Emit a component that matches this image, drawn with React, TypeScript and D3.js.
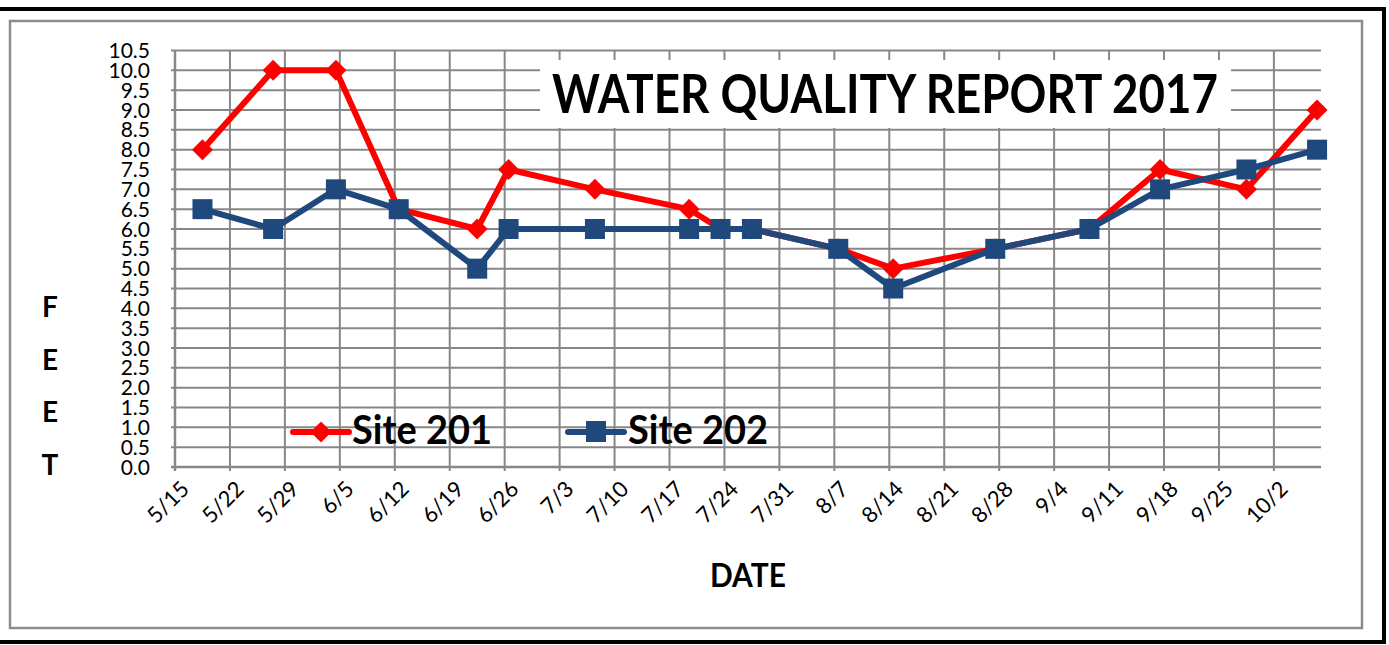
import * as d3 from "d3";

const sampleDates = [
  "2017-05-18", "2017-05-27", "2017-06-04", "2017-06-12", "2017-06-22",
  "2017-06-26", "2017-07-07", "2017-07-19", "2017-07-23", "2017-07-27",
  "2017-08-07", "2017-08-14", "2017-08-27", "2017-09-08", "2017-09-17",
  "2017-09-28", "2017-10-07",
];
const site201 = [8, 10, 10, 6.5, 6, 7.5, 7, 6.5, 6, 6, 5.5, 5, 5.5, 6, 7.5, 7, 9];
const site202 = [6.5, 6, 7, 6.5, 5, 6, 6, 6, 6, 6, 5.5, 4.5, 5.5, 6, 7, 7.5, 8];
const axisStart = "2017-05-15";
const axisEnd = "2017-10-08";
const yMax = 10.5;
const title = "WATER QUALITY REPORT 2017";
const yTitle = ["F", "E", "E", "T"];

const W = 1389;
const H = 645;
const left = 175;
const right = 1321;
const top = 50.5;
const bottom = 467;

const RED = "#ff0000";
const BLUE = "#1f497d";
const GRID = "#878787";
const FONT = "Lato, 'Open Sans', sans-serif";

const parse = d3.timeParse("%Y-%m-%d");
const fmt = d3.timeFormat("%-m/%-d");

export default function App() {
  const start = parse(axisStart)!;
  const end = parse(axisEnd)!;
  const x = d3.scaleTime([start, end], [left, right]);
  const y = d3.scaleLinear([0, yMax], [bottom, top]);

  // Excel date axis puts each point in the middle of its day
  const px = (s: string) => x(d3.timeHour.offset(parse(s)!, 12));
  const weeks = d3.timeMonday.range(start, d3.timeDay.offset(end, -1));
  const yTicks = y.ticks(21);

  const line = d3
    .line<number>()
    .x((_, i) => px(sampleDates[i]))
    .y((d) => y(d));

  const diamond = (cx: number, cy: number, r: number) =>
    `M${cx},${cy - r}L${cx + r},${cy}L${cx},${cy + r}L${cx - r},${cy}Z`;

  return (
    <svg
      width={W}
      height={H}
      style={{ position: "absolute", left: 0, top: 0, background: "#fff" }}
    >
      {/* frames */}
      <rect x={-6} y={9} width={1390} height={633} fill="none" stroke="#000" strokeWidth={4} />
      <rect x={10} y={21} width={1352} height={607} fill="none" stroke="#8c8c8c" strokeWidth={2.5} />

      {/* grid */}
      {yTicks.slice(1).map((t) => (
        <line key={"h" + t} x1={left - 4} x2={right} y1={y(t)} y2={y(t)} stroke={GRID} strokeWidth={2} />
      ))}
      {weeks.slice(1).map((d) => (
        <line key={"v" + d.getTime()} x1={x(d)} x2={x(d)} y1={top} y2={bottom + 4} stroke={GRID} strokeWidth={2} />
      ))}
      <line x1={left} x2={left} y1={top} y2={bottom + 4} stroke={GRID} strokeWidth={2.5} />
      <line x1={left - 4} x2={right} y1={bottom} y2={bottom} stroke={GRID} strokeWidth={2.5} />

      {/* y labels */}
      {yTicks.map((t) => (
        <text
          key={"yl" + t}
          x={150}
          y={y(t)}
          dy="0.36em"
          textAnchor="end"
          fontFamily={FONT}
          fontSize={21}
          fill="#000"
        >
          {t.toFixed(1)}
        </text>
      ))}

      {/* x labels */}
      {weeks.map((d) => (
        <text
          key={"xl" + d.getTime()}
          transform={`translate(${x(d) + 10},${bottom + 18}) rotate(-45)`}
          textAnchor="end"
          dy="0.35em"
          fontFamily={FONT}
          fontSize={22}
          fill="#000"
        >
          {fmt(d)}
        </text>
      ))}

      {/* axis titles */}
      <text x={748} y={587} textAnchor="middle" fontFamily={FONT} fontWeight="bold" fontSize={33} textLength={76} lengthAdjust="spacingAndGlyphs">
        DATE
      </text>
      {yTitle.map((c, i) => (
        <text key={"yt" + i} x={50} y={317 + i * 52.5} textAnchor="middle" fontFamily={FONT} fontWeight="bold" fontSize={28}>
          {c}
        </text>
      ))}

      {/* title */}
      <rect x={540} y={60} width={691} height={68} fill="#fff" />
      <text x={552} y={113} fontFamily={FONT} fontWeight="bold" fontSize={53} textLength={666} lengthAdjust="spacingAndGlyphs">
        {title}
      </text>

      {/* series */}
      <path d={line(site201)!} fill="none" stroke={RED} strokeWidth={6} strokeLinejoin="round" />
      {site201.map((v, i) => (
        <path key={"r" + i} d={diamond(px(sampleDates[i]), y(v), 10.5)} fill={RED} />
      ))}
      <path d={line(site202)!} fill="none" stroke={BLUE} strokeWidth={6} strokeLinejoin="round" />
      {site202.map((v, i) => (
        <rect key={"b" + i} x={px(sampleDates[i]) - 10} y={y(v) - 10} width={20} height={20} fill={BLUE} />
      ))}

      {/* legend */}
      <line x1={293} x2={349} y1={432} y2={432} stroke={RED} strokeWidth={6} strokeLinecap="round" />
      <path d={diamond(321, 432, 10.5)} fill={RED} />
      <text x={352} y={444} fontFamily={FONT} fontWeight="bold" fontSize={40} textLength={140} lengthAdjust="spacingAndGlyphs">
        Site 201
      </text>
      <line x1={568} x2={624} y1={432} y2={432} stroke={BLUE} strokeWidth={6} strokeLinecap="round" />
      <rect x={586} y={421} width={20} height={21} fill={BLUE} />
      <text x={628} y={444} fontFamily={FONT} fontWeight="bold" fontSize={40} textLength={140} lengthAdjust="spacingAndGlyphs">
        Site 202
      </text>
    </svg>
  );
}
